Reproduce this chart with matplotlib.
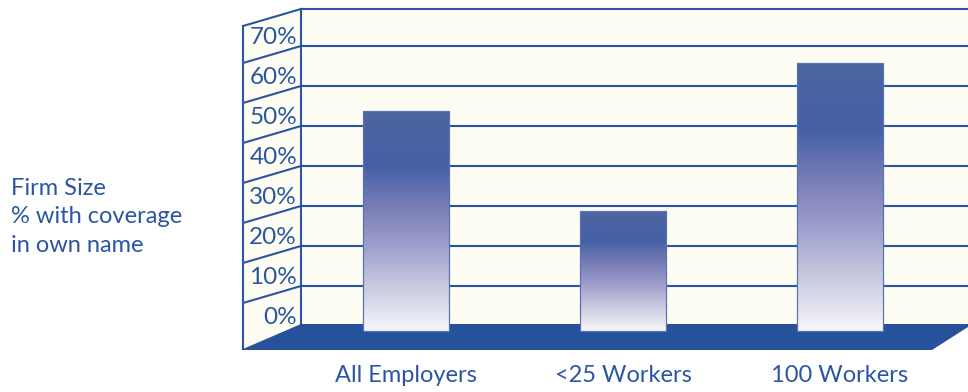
import numpy as np
import matplotlib.pyplot as plt
from matplotlib.patches import Polygon, Rectangle
from matplotlib.colors import LinearSegmentedColormap

categories = ['All Employers', '<25 Workers', '100 Workers']
values = [55, 30, 67]
tick_pcts = [0, 10, 20, 30, 40, 50, 60, 70]
side_title = ['Firm Size', '% with coverage', 'in own name']

BLUE = '#2b55a3'
FLOOR = '#27519b'
WALL = '#fdfdf4'
FONT = ['Lato', 'DejaVu Sans']
FS = 17

# pseudo-3d geometry (x in category units, y in percent on the back wall)
WALL_L = -0.484      # left edge of back wall
FRONT_X = -0.751     # front edge of side wall
DEPTH_DY = -4.25     # vertical drop from back to front
WALL_TOP = 79.25
BAR_W = 0.40
BAR_BASE = -1.25     # bars stand a little in front of the wall
X_MIN, X_MAX = -1.871, 2.590
Y_MIN, Y_MAX = -16.5, 81.5

bar_cmap = LinearSegmentedColormap.from_list('bar', [
    (0.0, '#4d66a0'), (0.25, '#4560a6'), (0.45, '#7c80b8'),
    (0.6, '#9c9ccb'), (0.78, '#c4c6de'), (1.0, '#f7f7fa')])

fig = plt.figure(figsize=(9.68, 3.92), dpi=100)
ax = fig.add_axes([0, 0, 1, 1])
ax.set_xlim(X_MIN, X_MAX)
ax.set_ylim(Y_MIN, Y_MAX)
ax.axis('off')

# back wall and side wall
ax.add_patch(Rectangle((WALL_L, 0), X_MAX - WALL_L + 0.1, WALL_TOP,
                       facecolor=WALL, edgecolor='none', zorder=1))
ax.add_patch(Polygon([(FRONT_X, WALL_TOP + DEPTH_DY), (WALL_L, WALL_TOP),
                      (WALL_L, 0), (FRONT_X, DEPTH_DY - 1.5)],
                     facecolor=WALL, edgecolor='none', zorder=1))

# gridlines on both walls
for p in tick_pcts[1:]:
    ax.plot([WALL_L, X_MAX + 0.1], [p, p], color=BLUE, lw=1.5, zorder=2)
for p in tick_pcts[1:] + [WALL_TOP]:
    ax.plot([FRONT_X, WALL_L], [p + DEPTH_DY, p], color=BLUE, lw=1.5, zorder=2)
ax.plot([WALL_L, X_MAX + 0.1], [WALL_TOP, WALL_TOP], color=BLUE, lw=1.5, zorder=2)
ax.plot([WALL_L, WALL_L], [0, WALL_TOP], color=BLUE, lw=1.5, zorder=2)
ax.plot([FRONT_X, FRONT_X], [DEPTH_DY - 1.5, WALL_TOP + DEPTH_DY],
        color=BLUE, lw=1.5, zorder=2)

# floor
ax.add_patch(Polygon([(WALL_L, 0.5), (X_MAX + 0.1, 0.5), (X_MAX, -0.25),
                      (2.424, -6.0), (FRONT_X, -6.0), (FRONT_X, -5.75)],
                     facecolor=FLOOR, edgecolor='none', zorder=3))

# percent labels on the side wall
for p in tick_pcts:
    ax.text(WALL_L - 0.018, p + 0.4, f'{p}%', ha='right', va='baseline',
            fontsize=FS + 0.5, color=BLUE, family=FONT, zorder=4)

# gradient bars
grad = np.linspace(0, 1, 256).reshape(-1, 1)
for i, v in enumerate(values):
    x0 = i - BAR_W / 2
    ax.imshow(grad, cmap=bar_cmap, aspect='auto', origin='upper',
              extent=[x0, x0 + BAR_W, BAR_BASE, BAR_BASE + v], zorder=5)
ax.bar(range(len(values)), values, width=BAR_W, bottom=BAR_BASE,
       facecolor='none', edgecolor='#5a74b0', lw=0.9, zorder=6)
ax.set_xlim(X_MIN, X_MAX)
ax.set_ylim(Y_MIN, Y_MAX)

# category labels
for i, c in enumerate(categories):
    ax.text(i, -12.5, c, ha='center', va='center', fontsize=FS,
            color=BLUE, family=FONT)

# left title
for j, line in enumerate(side_title):
    ax.text(X_MIN + 0.05, 32.75 - 7.1 * j, line, ha='left', va='baseline',
            fontsize=FS, color=BLUE, family=FONT)

fig.savefig('out.png', dpi=100)
